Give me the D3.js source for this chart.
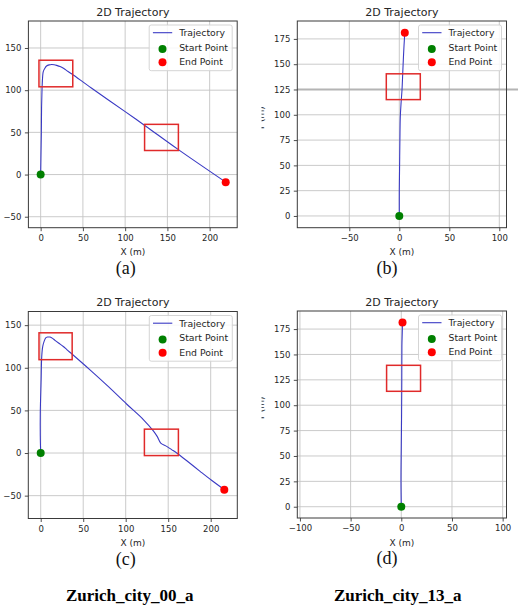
<!DOCTYPE html>
<html>
<head>
<meta charset="utf-8">
<script src="https://cdn.jsdelivr.net/npm/d3@7/dist/d3.min.js"></script>
<style>
  html, body { margin: 0; padding: 0; background: #ffffff; }
  svg { display: block; }
</style>
</head>
<body>
<svg id="chart" width="518" height="614"></svg>
<script>
// ---------------- DATA ----------------
// Panel (a) – Zurich_city_00_a, method 1
const aTrajX = [0, 0.4, 0.8, 1.1, 1.5, 1.9, 3.1, 5, 7, 10, 13, 16, 19, 23, 27, 32, 37, 60, 100, 124, 163, 219];
const aTrajY = [0, 25, 48, 80, 96, 108, 122, 126, 128.6, 130, 130.5, 130.2, 129.4, 128, 125.9, 122.5, 119.2, 102.6, 74.6, 57.6, 29.5, -9];
const aStart = [0, 0];
const aEnd = [219, -9];
const aBoxes = [[-2, 104, 38, 135.5], [123, 28.5, 163, 59.5]];
const aXTicks = [0, 50, 100, 150, 200];
const aYTicks = [-50, 0, 50, 100, 150];
const aXLim = [-14.5, 232.6];
const aYLim = [-63, 182];

// Panel (b) – Zurich_city_13_a, method 1
const bTrajX = [0, 0, 0.3, 0.6, 1, 1.8, 2.7, 3.4, 4, 4.7, 5.5];
const bTrajY = [0, 25, 50, 75, 98, 112, 124.5, 140, 154, 168, 181];
const bStart = [0, 0];
const bEnd = [5.5, 181];
const bBoxes = [[-13, 115, 21, 140.5]];
const bXTicks = [-50, 0, 50, 100];
const bYTicks = [0, 25, 50, 75, 100, 125, 150, 175];
const bXLim = [-102, 107.2];
const bYLim = [-11.6, 192.7];

// Panel (c) – Zurich_city_00_a, method 2
const cTrajX = [0, -0.5, -0.5, 0.5, 1.2, 2.4, 4, 5.9, 8, 11, 14, 16.8, 21, 26.6, 31, 36.4, 58, 80, 101, 121, 132.5, 137, 141.2, 148.2, 154, 160, 173, 187.5, 201, 216];
const cTrajY = [0, 20, 47, 86, 113, 125, 131, 135, 136, 136, 134.5, 132.2, 129, 125, 121, 116.4, 97.5, 77.5, 57.5, 39, 26, 19.5, 11.7, 7.8, 4, 0, -10, -21.5, -32, -43];
const cStart = [0, 0];
const cEnd = [216, -43];
const cBoxes = [[-2, 109.5, 37, 141], [122, -3, 162, 28]];
const cXTicks = [0, 50, 100, 150, 200];
const cYTicks = [-50, 0, 50, 100, 150];
const cXLim = [-14.6, 231.3];
const cYLim = [-76.8, 166];

// Panel (d) – Zurich_city_13_a, method 2
const dTrajX = [0, -0.3, 0, 0.3, 0.5, 0.6, 0.9, 1.2];
const dTrajY = [0, 26, 60, 92, 125, 158, 170, 181.5];
const dStart = [0, 0];
const dEnd = [1.2, 181.5];
const dBoxes = [[-14.5, 113.7, 19, 139.3]];
const dXTicks = [-100, -50, 0, 50, 100];
const dYTicks = [0, 25, 50, 75, 100, 125, 150, 175];
const dXLim = [-102.6, 103.8];
const dYLim = [-11.1, 192.8];

const titleText = "2D Trajectory";
const legendLabels = ["Trajectory", "Start Point", "End Point"];
const xLabelText = "X (m)";
const yLabelText = "Y (m)";
const captions = ["(a)", "(b)", "(c)", "(d)"];
const sequenceNames = ["Zurich_city_00_a", "Zurich_city_13_a"];

// ---------------- STYLE / LAYOUT ----------------
const FONT = "'DejaVu Sans', sans-serif";
const SERIF = "'Liberation Serif', 'Times New Roman', serif";
const LINE_COLOR = "#3a3ac4";
const START_COLOR = "#008000";
const END_COLOR = "#ff0000";
const BOX_COLOR = "#e02a2a";
const GRID_COLOR = "#c4c4c4";
const TEXT_COLOR = "#262626";

const panels = [
  {id: "a", x: aTrajX, y: aTrajY, start: aStart, end: aEnd, boxes: aBoxes, xt: aXTicks, yt: aYTicks, xl: aXLim, yl: aYLim,
   frame: {l: 28.4, r: 237.2, t: 21, b: 227.7}},
  {id: "b", x: bTrajX, y: bTrajY, start: bStart, end: bEnd, boxes: bBoxes, xt: bXTicks, yt: bYTicks, xl: bXLim, yl: bYLim,
   frame: {l: 297.3, r: 506.5, t: 21, b: 227.7}, clipYLabel: 261.5, artifactY: 125},
  {id: "c", x: cTrajX, y: cTrajY, start: cStart, end: cEnd, boxes: cBoxes, xt: cXTicks, yt: cYTicks, xl: cXLim, yl: cYLim,
   frame: {l: 28.3, r: 237.3, t: 311.5, b: 518.5}},
  {id: "d", x: dTrajX, y: dTrajY, start: dStart, end: dEnd, boxes: dBoxes, xt: dXTicks, yt: dYTicks, xl: dXLim, yl: dYLim,
   frame: {l: 297.3, r: 506.5, t: 311, b: 518}, clipYLabel: 261.5}
];

const svg = d3.select("#chart");
const defs = svg.append("defs");

panels.forEach((p, i) => {
  const f = p.frame;
  const xs = d3.scaleLinear().domain(p.xl).range([f.l, f.r]);
  const ys = d3.scaleLinear().domain(p.yl).range([f.b, f.t]);
  const g = svg.append("g").attr("class", "panel-" + p.id);

  defs.append("clipPath").attr("id", "clip-" + p.id)
    .append("rect").attr("x", f.l).attr("y", f.t).attr("width", f.r - f.l).attr("height", f.b - f.t);

  // grid
  const grid = g.append("g");
  grid.selectAll("line.gx").data(p.xt).join("line")
    .attr("x1", d => xs(d)).attr("x2", d => xs(d)).attr("y1", f.t).attr("y2", f.b)
    .attr("stroke", GRID_COLOR).attr("stroke-width", 0.9);
  grid.selectAll("line.gy").data(p.yt).join("line")
    .attr("class", "gy")
    .attr("x1", f.l).attr("x2", f.r).attr("y1", d => ys(d)).attr("y2", d => ys(d))
    .attr("stroke", GRID_COLOR).attr("stroke-width", 0.9);

  // artifact line in (b) extending past frame
  if (p.artifactY !== undefined) {
    g.append("line")
      .attr("x1", f.l).attr("x2", 518).attr("y1", ys(p.artifactY)).attr("y2", ys(p.artifactY))
      .attr("stroke", "#b4b4b4").attr("stroke-width", 2);
  }

  // trajectory
  const pts = p.x.map((v, k) => [v, p.y[k]]);
  const line = d3.line().x(d => xs(d[0])).y(d => ys(d[1])).curve(d3.curveMonotoneY === undefined ? d3.curveLinear : d3.curveCatmullRom.alpha(0.5));
  g.append("path").datum(pts)
    .attr("clip-path", "url(#clip-" + p.id + ")")
    .attr("d", line).attr("fill", "none").attr("stroke", LINE_COLOR).attr("stroke-width", 1.1);

  // start & end points
  g.append("circle").attr("cx", xs(p.start[0])).attr("cy", ys(p.start[1])).attr("r", 4).attr("fill", START_COLOR);
  g.append("circle").attr("cx", xs(p.end[0])).attr("cy", ys(p.end[1])).attr("r", 4).attr("fill", END_COLOR);

  // red annotation boxes
  g.selectAll("rect.box").data(p.boxes).join("rect")
    .attr("x", d => xs(d[0])).attr("y", d => ys(d[3]))
    .attr("width", d => xs(d[2]) - xs(d[0])).attr("height", d => ys(d[1]) - ys(d[3]))
    .attr("fill", "none").attr("stroke", BOX_COLOR).attr("stroke-width", 1.5);

  // frame
  g.append("rect").attr("x", f.l).attr("y", f.t).attr("width", f.r - f.l).attr("height", f.b - f.t)
    .attr("fill", "none").attr("stroke", "#3a3a3a").attr("stroke-width", 1);

  // axes
  const xAxis = d3.axisBottom(xs).tickValues(p.xt).tickSize(3.5).tickPadding(3.5).tickFormat(d3.format("d"));
  const yAxis = d3.axisLeft(ys).tickValues(p.yt).tickSize(3.5).tickPadding(3.5).tickFormat(d3.format("d"));
  const gx = g.append("g").attr("transform", `translate(0,${f.b})`).call(xAxis);
  const gy = g.append("g").attr("transform", `translate(${f.l},0)`).call(yAxis);
  [gx, gy].forEach(ax => {
    ax.select(".domain").remove();
    ax.selectAll(".tick line").attr("stroke", "#3a3a3a").attr("stroke-width", 0.9);
    ax.selectAll(".tick text").attr("fill", TEXT_COLOR).style("font-family", FONT).style("font-size", "8.5px");
  });

  // title
  g.append("text").attr("x", (f.l + f.r) / 2).attr("y", f.t - 5.5)
    .attr("text-anchor", "middle").attr("fill", TEXT_COLOR)
    .style("font-family", FONT).style("font-size", "11px").text(titleText);

  // x label
  g.append("text").attr("x", (f.l + f.r) / 2).attr("y", f.b + 27.5)
    .attr("text-anchor", "middle").attr("fill", TEXT_COLOR)
    .style("font-family", FONT).style("font-size", "9px").text(xLabelText);

  // y label: only the right panels show a cropped remnant of it in the reference
  if (p.clipYLabel !== undefined) {
    defs.append("clipPath").attr("id", "ylclip-" + p.id)
      .append("rect").attr("x", p.clipYLabel).attr("y", f.t).attr("width", 40).attr("height", f.b - f.t);
    g.append("g").attr("clip-path", "url(#ylclip-" + p.id + ")")
      .append("text")
      .attr("transform", `translate(${f.l - 33.8},${(f.t + f.b) / 2 - 6}) rotate(-90)`)
      .attr("text-anchor", "middle").attr("fill", TEXT_COLOR)
      .style("font-family", FONT).style("font-size", "9px").text(yLabelText);
  }

  // legend
  const lw = 83, lh = 45.7;
  const lx = f.r - 5 - lw, ly = f.t + 4;
  const lg = g.append("g");
  lg.append("rect").attr("x", lx).attr("y", ly).attr("width", lw).attr("height", lh)
    .attr("rx", 2).attr("fill", "#ffffff").attr("fill-opacity", 0.85)
    .attr("stroke", "#d0d0d0").attr("stroke-width", 0.9);
  lg.append("line").attr("x1", lx + 3.7).attr("x2", lx + 23).attr("y1", ly + 7.7).attr("y2", ly + 7.7)
    .attr("stroke", LINE_COLOR).attr("stroke-width", 1.1);
  lg.append("circle").attr("cx", lx + 13.3).attr("cy", ly + 24).attr("r", 4).attr("fill", START_COLOR);
  lg.append("circle").attr("cx", lx + 13.3).attr("cy", ly + 37.3).attr("r", 4).attr("fill", END_COLOR);
  lg.selectAll("text").data(legendLabels).join("text")
    .attr("x", lx + 30).attr("y", (d, k) => ly + 7.7 + k * 14.5 + 3.3)
    .attr("fill", TEXT_COLOR).style("font-family", FONT).style("font-size", "9.3px").text(d => d);

  // caption (a)/(b)/(c)/(d)
  const capX = (i % 2 === 0) ? 125.8 : 387;
  svg.append("text").attr("x", capX).attr("y", f.b + 46.3)
    .attr("text-anchor", "middle").attr("fill", "#111")
    .style("font-family", SERIF).style("font-size", "18px").text(captions[i]);
});

// sequence names under bottom row
svg.selectAll("text.seq").data(sequenceNames).join("text")
  .attr("class", "seq")
  .attr("x", (d, k) => k === 0 ? 129.7 : 397.7).attr("y", 601)
  .attr("text-anchor", "middle").attr("fill", "#000")
  .style("font-family", SERIF).style("font-size", "17px").style("font-weight", "bold")
  .text(d => d);
</script>
</body>
</html>
